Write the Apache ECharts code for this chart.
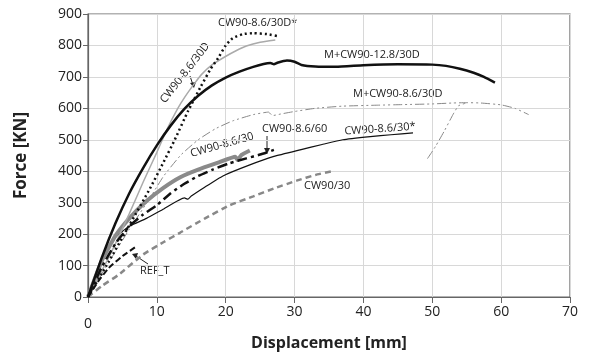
<!DOCTYPE html>
<html><head><meta charset="utf-8">
<script src="https://cdn.jsdelivr.net/npm/echarts@6/dist/echarts.min.js"></script>
<style>html,body{margin:0;padding:0;background:#fff}#c{width:594px;height:363px}</style>
</head><body><div id="c"></div>
<script>
// ---- data (displacement [mm], force [kN]) ----
var xTicks = [0,10,20,30,40,50,60,70];
var yTicks = [0,100,200,300,400,500,600,700,800,900];

var m128_30D = [[0,0],[2,125],[4,235],[6,330],[8,410],[10,482],[12,545],[14,598],[16,640],[18,673],[20,698],[22,717],[24,732],[25.5,741],[26.5,744],[27,740],[27.5,745],[28.9,752],[30,748],[31,738],[33,733],[36,732],[40,737],[45,740],[50,739],[52,735],[54,726],[56,713],[57.5,700],[59.1,682]];
var cw30Dstar = [[0,0],[3,112],[6,228],[9,345],[11,430],[12.6,500],[14.5,590],[16.4,670],[17.8,725],[18.9,760],[20,800],[21,823],[22.5,836],[24,839],[26,836],[27.5,830]];
var cw30D = [[0,0],[3,125],[6,265],[8,365],[10,460],[11.4,530],[13,598],[14.1,637],[15.5,680],[16.5,708],[18,738],[19.9,764],[21.5,783],[23,798],[25,810],[27.2,817]];
var m86_30D = [[0,0],[3,110],[6,215],[9,315],[11,385],[13.5,452],[16,500],[18.5,535],[21,560],[24,580],[26.2,588],[26.8,577],[28,582],[30,590],[33,600],[37,607],[42,610],[46,612],[50,614],[53,617],[55,618],[57,617],[60,611],[62,600],[64,580]];
var m86_30Dreload = [[49.3,440],[50.5,480],[51.8,530],[53,580],[53.8,608],[54.8,616]];
var cw30 = [[0,0],[2,115],[4,195],[6,250],[8.5,305],[11,348],[13.4,381],[16,405],[19,428],[21.4,446],[21.7,436],[22.3,452],[23.5,466]];
var cw60 = [[0,0],[2,95],[4,170],[6,225],[8,262],[10,292],[12,330],[14,360],[16,385],[18.2,406],[20.5,425],[23,441],[25,453],[27.3,470]];
var cw30star = [[0,0],[2,110],[4,190],[6,225],[8.5,250],[11,280],[14,315],[14.5,311],[15,321],[17,350],[19.6,385],[23.5,420],[27,447],[30.8,468],[34,485],[37,500],[41,510],[44,516],[47.2,522]];
var cw90_30 = [[0,0],[2,35],[4.4,70],[8,135],[11,175],[13.4,205],[17,250],[20.6,292],[24,320],[27,345],[30.3,370],[33,388],[35.4,400]];
var refT = [[0,0],[1.5,50],[3,92],[5,130],[7.1,162]];

var chart = echarts.init(document.getElementById('c'));
var FONT = 'Open Sans';
function ln(name, data, color, width, type, z){
  return {name:name, type:'line', data:data, showSymbol:false, symbol:'none', smooth:0.15, z:z||2,
    lineStyle:{color:color, width:width, type:type}};
}
chart.setOption({
  animation:false,
  textStyle:{fontFamily:FONT},
  grid:{left:88, right:24, top:14, bottom:66, show:true, borderColor:'#666', borderWidth:1.2},
  xAxis:{type:'value', min:0, max:70, interval:10,
    name:'Displacement [mm]', nameLocation:'middle', nameGap:34,
    nameTextStyle:{fontSize:16, fontWeight:'bold', color:'#222', fontFamily:FONT},
    axisLine:{lineStyle:{color:'#666', width:1.2}},
    axisTick:{show:true, length:6, lineStyle:{color:'#666'}},
    axisLabel:{fontSize:14, color:'#222', margin:8,
      formatter:function(v){return v===0?'{z|0}':String(v);},
      rich:{z:{fontSize:14, color:'#222', padding:[12,0,0,0]}}},
    splitLine:{show:true, lineStyle:{color:'#d8d8d8', width:1}}},
  yAxis:{type:'value', min:0, max:900, interval:100,
    name:'Force [KN]', nameLocation:'middle', nameGap:58,
    nameTextStyle:{fontSize:17, fontWeight:'bold', color:'#222', fontFamily:FONT},
    axisLine:{show:true, lineStyle:{color:'#666', width:1.2}},
    axisTick:{show:true, length:5, lineStyle:{color:'#666'}},
    axisLabel:{fontSize:14, color:'#222', margin:6},
    splitLine:{show:true, lineStyle:{color:'#d8d8d8', width:1}}},
  series:[
    ln('CW90/30', cw90_30, '#888', 2.5, [6,4], 2),
    ln('CW90-8.6/30*', cw30star, '#111', 1.2, 'solid', 3),
    ln('CW90-8.6/30', cw30, '#8a8a8a', 4, 'solid', 3),
    ln('CW90-8.6/60', cw60, '#111', 2.5, [10,4,3,4], 4),
    ln('REF_T', refT, '#111', 2, [6,3], 4),
    ln('M+CW90-8.6/30D', m86_30D, '#888', 1, [9,3,2,3,2,3], 2),
    ln('M+CW90-8.6/30D reload', m86_30Dreload, '#888', 1, [9,3,2,3,2,3], 2),
    ln('CW90-8.6/30D', cw30D, '#aaa', 1.5, 'solid', 3),
    ln('CW90-8.6/30D*', cw30Dstar, '#111', 2.5, [2,3], 5),
    ln('M+CW90-12.8/30D', m128_30D, '#111', 2.5, 'solid', 5)
  ],
  graphic:[
    {type:'text', left:218, top:17, style:{text:'CW90-8.6/30D*', font:'11px '+FONT, fill:'#222'}},
    {type:'text', x:185, y:73, rotation:52*Math.PI/180, style:{text:'CW90-8.6/30D', font:'11px '+FONT, fill:'#222', align:'center', verticalAlign:'middle'}},
    {type:'line', shape:{x1:190, y1:76, x2:193, y2:85}, style:{stroke:'#222', lineWidth:1}},
    {type:'polygon', shape:{points:[[190,83],[196,82],[194,88]]}, style:{fill:'#222'}},
    {type:'text', left:324, top:49, style:{text:'M+CW90-12.8/30D', font:'11px '+FONT, fill:'#222'}},
    {type:'text', left:353, top:88, style:{text:'M+CW90-8.6/30D', font:'11px '+FONT, fill:'#222'}},
    {type:'text', left:262, top:123, style:{text:'CW90-8.6/60', font:'11px '+FONT, fill:'#222'}},
    {type:'line', shape:{x1:267, y1:136, x2:267, y2:150}, style:{stroke:'#222', lineWidth:1}},
    {type:'polygon', shape:{points:[[264,148],[270,148],[267,154]]}, style:{fill:'#222'}},
    {type:'text', x:380, y:129, rotation:4*Math.PI/180, style:{text:'CW90-8.6/30*', font:'11px '+FONT, fill:'#222', align:'center', verticalAlign:'middle'}},
    {type:'text', x:222, y:145, rotation:16*Math.PI/180, style:{text:'CW90-8.6/30', font:'11px '+FONT, fill:'#222', align:'center', verticalAlign:'middle'}},
    {type:'text', left:304, top:180, style:{text:'CW90/30', font:'11px '+FONT, fill:'#222'}},
    {type:'text', left:140, top:265, style:{text:'REF_T', font:'11px '+FONT, fill:'#222'}},
    {type:'line', shape:{x1:148, y1:264, x2:136, y2:256}, style:{stroke:'#222', lineWidth:1}},
    {type:'polygon', shape:{points:[[132,254],[138,253],[136,259]]}, style:{fill:'#222'}}
  ]
});
</script></body></html>
